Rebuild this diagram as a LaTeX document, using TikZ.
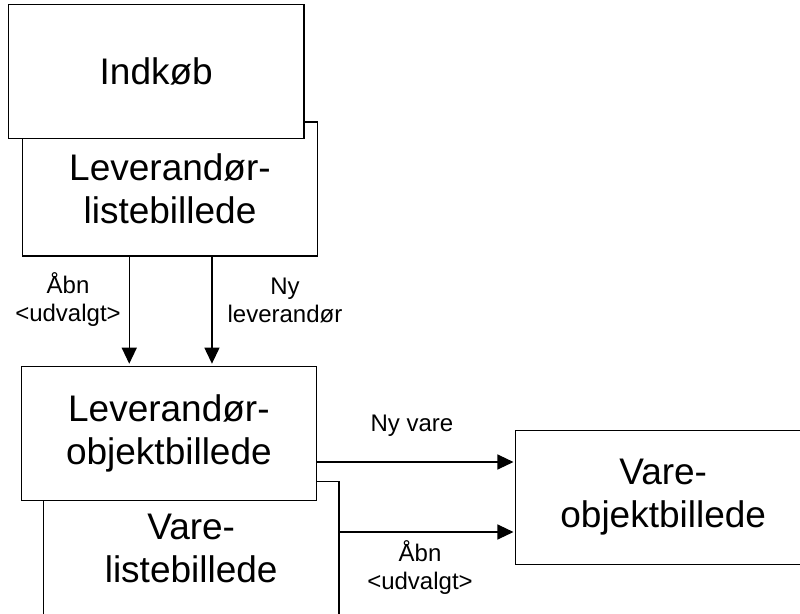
\documentclass[tikz,border=0pt]{standalone}
\usepackage{fontspec}
\setmainfont{Liberation Sans}
\usetikzlibrary{arrows.meta}
\begin{document}
\begin{tikzpicture}[x=1pt,y=-1pt,
  screen/.style={draw=black, line width=1.2pt, fill=white, inner sep=0pt, outer sep=0pt,
    minimum width=295.5pt, minimum height=134pt, align=center,
    font=\fontsize{37}{43}\selectfont},
  lbl/.style={inner sep=0pt, align=center, font=\fontsize{24}{28}\selectfont},
  arr/.style={line width=1.2pt, -{Triangle[length=16pt,width=15pt]}}]
\clip (0,0) rectangle (800,613);
\fill[white] (0,0) rectangle (800,613);
% back boxes first
\node[screen] (levliste) at (170,189) {Leverandør-\\listebillede};
\node[screen] (indkob) at (156.2,71.2) {Indkøb};
\node[screen] (vareliste) at (191.2,548.8) {Vare-\\listebillede};
\node[screen] (levobj) at (168.9,433.7) {Leverandør-\\objektbillede};
\node[screen] (vareobj) at (663.2,497.5) {Vare-\\objektbillede};
% arrows
\coordinate (a1) at ([xshift=107pt]levliste.south west);
\coordinate (a2) at ([xshift=189.7pt]levliste.south west);
\draw[arr] (a1) -- ([yshift=3pt]a1 |- levobj.north);
\draw[arr] (a2) -- ([yshift=3pt]a2 |- levobj.north);
\coordinate (h1) at ([yshift=-28.3pt]levobj.east);
\coordinate (h2) at ([yshift=16.8pt]vareliste.east);
\draw[arr] (h1) -- ([xshift=-2pt]h1 -| vareobj.west);
\draw[arr] (h2) -- ([xshift=-2pt]h2 -| vareobj.west);
% labels
\node[lbl] (l1) at (68,300) {Åbn\\<udvalgt>};
\node[lbl] (l2) at (285,300) {Ny\\leverandør};
\node[lbl, anchor=base] (l3) at (412,431.5) {Ny vare};
\node[lbl] (l4) at (420,568) {Åbn\\<udvalgt>};
\end{tikzpicture}
\end{document}
